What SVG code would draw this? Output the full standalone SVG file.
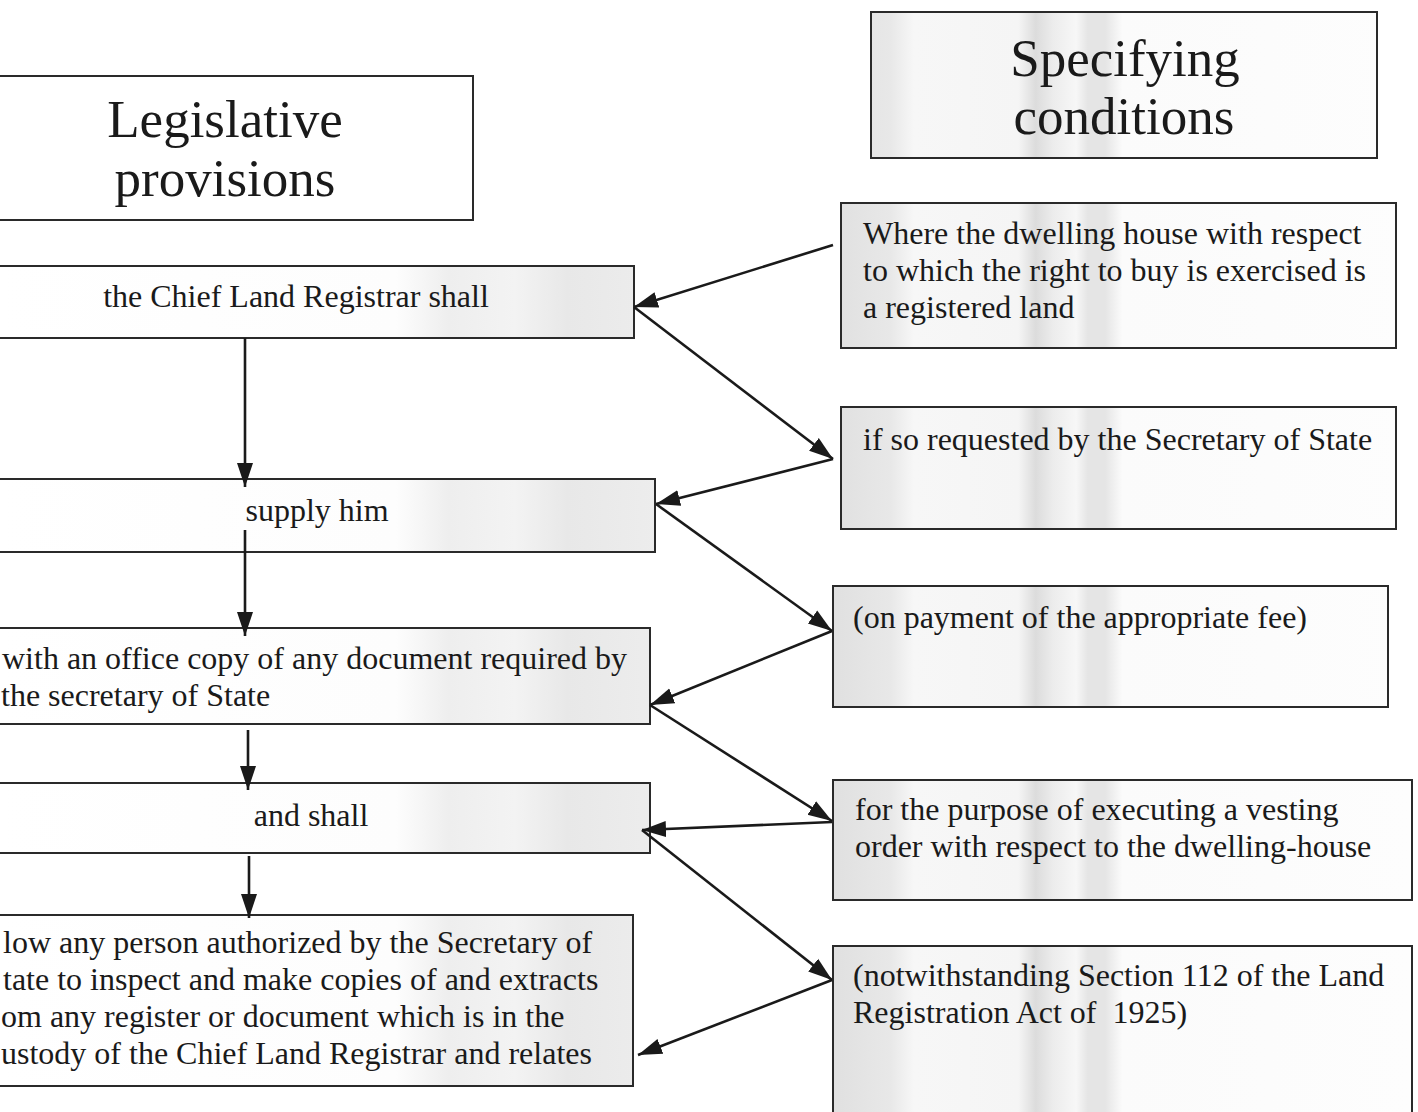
<svg xmlns="http://www.w3.org/2000/svg" width="1418" height="1112" viewBox="0 0 1418 1112">
  <style>
    .box { stroke: #2a2a2a; stroke-width: 2; }
    .lbox { fill: url(#gL); }
    .rbox { fill: url(#gR); }
    .hd { font-family: "Liberation Serif", "Times New Roman", serif; font-size: 53px; fill: #1a1a1a; }
    .tx { font-family: "Liberation Serif", "Times New Roman", serif; font-size: 32px; fill: #1a1a1a; white-space: pre; }
    .mid { text-anchor: middle; }
    .cn { stroke: #1a1a1a; stroke-width: 2.6; fill: none; marker-end: url(#ah); }
  </style>
  <defs>
    <marker id="ah" markerUnits="userSpaceOnUse" markerWidth="26" markerHeight="20" viewBox="0 0 26 20" refX="24" refY="10" orient="auto">
      <path d="M0,2 L24,10 L0,18 Z" fill="#1a1a1a"/>
    </marker>
    <linearGradient id="gL" gradientUnits="userSpaceOnUse" x1="0" y1="0" x2="660" y2="0">
      <stop offset="0" stop-color="#ffffff"/>
      <stop offset="0.6" stop-color="#fdfdfd"/>
      <stop offset="0.68" stop-color="#eeeeee"/>
      <stop offset="0.78" stop-color="#f3f3f3"/>
      <stop offset="0.86" stop-color="#e8e8e8"/>
      <stop offset="1" stop-color="#ededed"/>
    </linearGradient>
    <linearGradient id="gR" gradientUnits="userSpaceOnUse" x1="833" y1="0" x2="1412" y2="0">
      <stop offset="0" stop-color="#e0e0e0"/>
      <stop offset="0.1" stop-color="#e8e8e8"/>
      <stop offset="0.14" stop-color="#f7f7f7"/>
      <stop offset="0.32" stop-color="#f5f5f5"/>
      <stop offset="0.35" stop-color="#dcdcdc"/>
      <stop offset="0.38" stop-color="#ececec"/>
      <stop offset="0.42" stop-color="#f7f7f7"/>
      <stop offset="0.44" stop-color="#e5e5e5"/>
      <stop offset="0.47" stop-color="#e5e5e5"/>
      <stop offset="0.5" stop-color="#fbfbfb"/>
      <stop offset="1" stop-color="#fdfdfd"/>
    </linearGradient>
  </defs>
  <rect width="1418" height="1112" fill="#ffffff"/>

  <g id="hdr-legislative">
    <rect class="box" x="-10" y="76" width="483" height="144" fill="#ffffff"/>
    <text class="hd mid" x="225" y="137">Legislative</text>
    <text class="hd mid" x="225" y="196">provisions</text>
  </g>
  <g id="hdr-specifying">
    <rect class="box rbox" x="871" y="12" width="506" height="146"/>
    <text class="hd mid" x="1125" y="76">Specifying</text>
    <text class="hd mid" x="1124" y="134">conditions</text>
  </g>

  <g id="b1">
    <rect class="box lbox" x="-10" y="266" width="644" height="72"/>
    <text class="tx mid" x="296" y="307">the Chief Land Registrar shall</text>
  </g>
  <g id="b2">
    <rect class="box lbox" x="-10" y="479" width="665" height="73"/>
    <text class="tx mid" x="317" y="521">supply him</text>
  </g>
  <g id="b3">
    <rect class="box lbox" x="-10" y="628" width="660" height="96"/>
    <text class="tx" x="2" y="669">with an office copy of any document required by</text>
    <text class="tx" x="1" y="706">the secretary of State</text>
  </g>
  <g id="b4">
    <rect class="box lbox" x="-10" y="783" width="660" height="70"/>
    <text class="tx mid" x="311" y="826">and shall</text>
  </g>
  <g id="b5">
    <rect class="box lbox" x="-10" y="915" width="643" height="171"/>
    <text class="tx" x="3" y="953">low any person authorized by the Secretary of</text>
    <text class="tx" x="3" y="990">tate to inspect and make copies of and extracts</text>
    <text class="tx" x="1" y="1027">om any register or document which is in the</text>
    <text class="tx" x="1" y="1064">ustody of the Chief Land Registrar and relates</text>
  </g>

  <g id="c1">
    <rect class="box rbox" x="841" y="203" width="555" height="145"/>
    <text class="tx" x="863" y="244">Where the dwelling house with respect</text>
    <text class="tx" x="863" y="281">to which the right to buy is exercised is</text>
    <text class="tx" x="863" y="318">a registered land</text>
  </g>
  <g id="c2">
    <rect class="box rbox" x="841" y="407" width="555" height="122"/>
    <text class="tx" x="863" y="450">if so requested by the Secretary of State</text>
  </g>
  <g id="c3">
    <rect class="box rbox" x="833" y="586" width="555" height="121"/>
    <text class="tx" x="853" y="628">(on payment of the appropriate fee)</text>
  </g>
  <g id="c4">
    <rect class="box rbox" x="833" y="780" width="579" height="120"/>
    <text class="tx" x="855" y="820">for the purpose of executing a vesting</text>
    <text class="tx" x="855" y="857">order with respect to the dwelling-house</text>
  </g>
  <g id="c5">
    <rect class="box rbox" x="833" y="946" width="579" height="180"/>
    <text class="tx" x="853" y="986">(notwithstanding Section 112 of the Land</text>
    <text class="tx" x="853" y="1023">Registration Act of  1925)</text>
  </g>

  <g id="connectors">
    <line class="cn" x1="245" y1="338" x2="245" y2="487"/>
    <line class="cn" x1="245" y1="530" x2="245" y2="636"/>
    <line class="cn" x1="248" y1="730" x2="248" y2="790"/>
    <line class="cn" x1="249" y1="856" x2="249" y2="918"/>

    <line class="cn" x1="833" y1="245" x2="634" y2="307"/>
    <line class="cn" x1="634" y1="307" x2="833" y2="459"/>
    <line class="cn" x1="833" y1="459" x2="656" y2="504"/>
    <line class="cn" x1="656" y1="504" x2="832" y2="631"/>
    <line class="cn" x1="832" y1="631" x2="650" y2="705"/>
    <line class="cn" x1="650" y1="705" x2="832" y2="821"/>
    <line class="cn" x1="832" y1="822" x2="642" y2="830"/>
    <line class="cn" x1="642" y1="830" x2="832" y2="980"/>
    <line class="cn" x1="832" y1="980" x2="638" y2="1055"/>
  </g>
</svg>
